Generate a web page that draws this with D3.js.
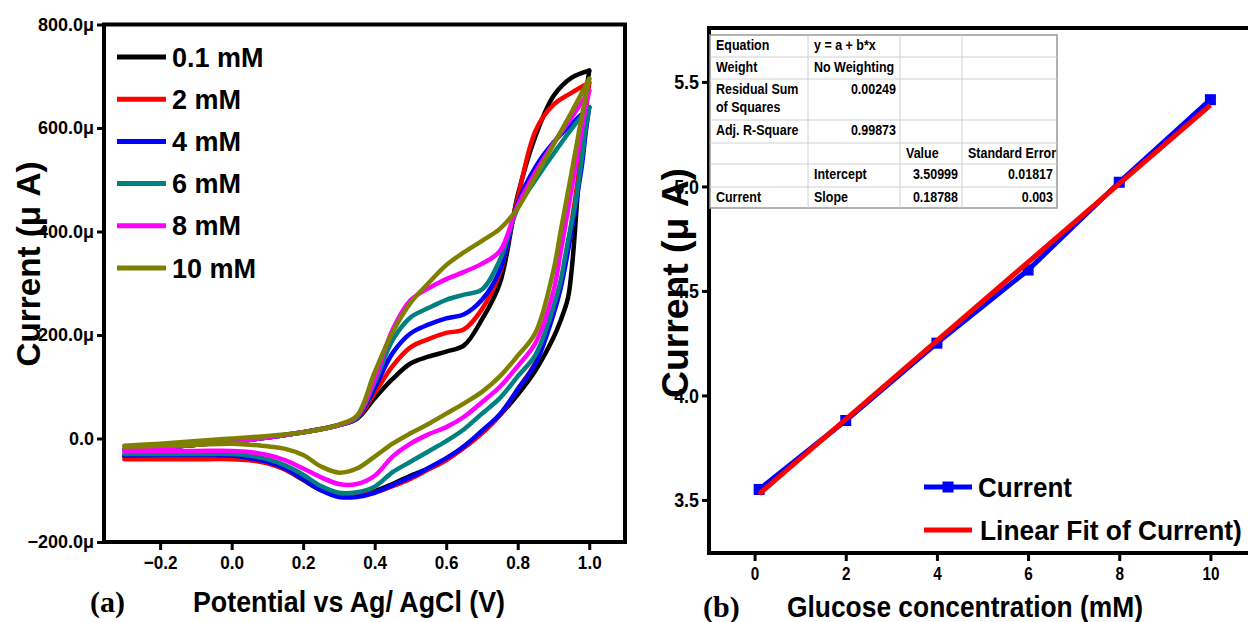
<!DOCTYPE html>
<html>
<head>
<meta charset="utf-8">
<script src="https://cdn.jsdelivr.net/npm/d3@7"></script>
<style>
  body { margin: 0; background: #fff; }
  text { font-family: "Liberation Sans", Arial, sans-serif; font-weight: bold; fill: #000; }
</style>
</head>
<body>
<svg id="chart" width="1248" height="622"></svg>
<script>
// ---- (a) cyclic voltammograms, current in microamps ----
const concLabels = ['0.1 mM', '2 mM', '4 mM', '6 mM', '8 mM', '10 mM'];
const cvColors = ['#000000', '#ff0000', '#0000ff', '#008080', '#ff00ff', '#808000'];
const fwdPotential = [-0.3, -0.2, -0.1, 0.0, 0.1, 0.2, 0.3, 0.35, 0.4, 0.45, 0.5, 0.55, 0.6, 0.65, 0.7, 0.75, 0.8, 0.85, 0.9, 0.95, 1.0];
const fwdCurrent = [
  [-22, -18, -12, -6, 2, 12, 26, 38, 78, 115, 145, 158, 168, 180, 230, 300, 470, 585, 662, 697, 711],
  [-22, -18, -12, -6, 2, 12, 26, 39, 88, 140, 176, 192, 204, 211, 250, 320, 465, 595, 645, 668, 688],
  [-22, -18, -12, -6, 2, 12, 26, 40, 98, 165, 203, 220, 232, 240, 268, 325, 455, 525, 572, 608, 640],
  [-22, -18, -12, -6, 2, 12, 26, 41, 108, 190, 234, 252, 268, 278, 288, 345, 445, 500, 550, 598, 640],
  [-22, -18, -12, -6, 2, 12, 26, 42, 115, 210, 267, 290, 308, 322, 338, 362, 450, 515, 570, 620, 672],
  [-14, -10, -5, 0, 5, 12, 27, 44, 128, 205, 262, 300, 335, 360, 382, 405, 445, 507, 568, 630, 695]
];
const revPotential = [1.0, 0.99, 0.98, 0.97, 0.96, 0.95, 0.94, 0.92, 0.9, 0.85, 0.8, 0.75, 0.7, 0.65, 0.6, 0.55, 0.5, 0.45, 0.4, 0.35, 0.3, 0.25, 0.2, 0.15, 0.1, 0.05, 0.0, -0.1, -0.2, -0.3];
const revCurrent = [
  [711, 660, 590, 500, 400, 320, 270, 228, 195, 132, 85, 45, 12, -15, -40, -58, -72, -88, -102, -110, -110, -100, -80, -60, -45, -38, -35, -35, -35, -35],
  [688, 630, 565, 510, 460, 415, 370, 300, 245, 148, 95, 45, 10, -18, -42, -60, -78, -92, -104, -110, -110, -98, -78, -60, -48, -42, -40, -40, -40, -40],
  [640, 590, 530, 485, 440, 400, 360, 290, 240, 145, 95, 47, 15, -15, -38, -57, -75, -90, -105, -113, -113, -100, -78, -58, -45, -38, -33, -32, -32, -33],
  [640, 600, 545, 495, 450, 415, 380, 305, 255, 162, 120, 78, 48, 18, -5, -25, -45, -65, -93, -104, -105, -92, -70, -52, -40, -33, -30, -30, -30, -30],
  [672, 640, 600, 560, 520, 480, 440, 360, 285, 185, 140, 100, 70, 42, 22, 8, -10, -35, -72, -88, -88, -75, -58, -42, -32, -26, -24, -24, -24, -25],
  [695, 660, 625, 588, 550, 512, 475, 400, 325, 205, 160, 120, 90, 68, 48, 28, 10, -10, -35, -58, -66, -54, -32, -20, -15, -12, -10, -12, -14, -16]
];
const cvXTicks = [-0.2, 0.0, 0.2, 0.4, 0.6, 0.8, 1.0];
const cvYTicks = [-200, 0, 200, 400, 600, 800];

// ---- (b) calibration plot ----
const glucose = [0.1, 2, 4, 6, 8, 10];
const peakCurrent = [3.55, 3.88, 4.25, 4.60, 5.02, 5.415];
const fitIntercept = 3.50999;
const fitSlope = 0.18788;
const calXTicks = [0, 2, 4, 6, 8, 10];
const calYTicks = [3.5, 4.0, 4.5, 5.0, 5.5];
const tableRows = [
  ['Equation', 'y = a + b*x', '', ''],
  ['Weight', 'No Weighting', '', ''],
  ['Residual Sum|of Squares', '0.00249', '', ''],
  ['Adj. R-Square', '0.99873', '', ''],
  ['', '', 'Value', 'Standard Error'],
  ['', 'Intercept', '3.50999', '0.01817'],
  ['Current', 'Slope', '0.18788', '0.003']
];

const svg = d3.select('#chart');

// squeeze text horizontally (the original uses a narrow font)
function condense(sel, k) {
  sel.each(function () {
    const w = this.getComputedTextLength();
    this.setAttribute('textLength', w * k);
    this.setAttribute('lengthAdjust', 'spacingAndGlyphs');
  });
}
function fitTo(sel, len) {
  sel.attr('textLength', len).attr('lengthAdjust', 'spacingAndGlyphs');
}
// scale a left-anchored text so its box really is len wide
function scaleTo(sel, x, y, len) {
  const w = sel.node().getComputedTextLength();
  sel.attr('transform', `translate(${x},${y}) scale(${len / w},1)`);
}

function styleAxis(g, fontSize) {
  g.select('.domain').remove();
  g.selectAll('.tick line').attr('stroke', '#000').attr('stroke-width', 3);
  g.selectAll('.tick text').style('font-size', fontSize + 'px');
}

// ================= panel (a) =================
const ax = d3.scaleLinear().domain([-0.357, 1.1]).range([104, 625]);
const ay = d3.scaleLinear().domain([-200, 800]).range([542, 24.5]);

svg.append('g').attr('transform', 'translate(0,542)')
  .call(d3.axisBottom(ax).tickValues(cvXTicks).tickSize(8).tickPadding(6).tickFormat(d3.format('.1f')))
  .call(g => styleAxis(g, 19))
  .call(g => condense(g.selectAll('.tick text'), 0.9));
svg.append('g').attr('transform', 'translate(104,0)')
  .call(d3.axisLeft(ay).tickValues(cvYTicks).tickSize(7).tickPadding(3)
    .tickFormat(d => d === 0 ? '0.0' : d3.format('.1f')(d) + 'μ'))
  .call(g => styleAxis(g, 18));

const branch = d3.line().curve(d3.curveCatmullRom.alpha(0.5))
  .x(d => ax(d[0])).y(d => ay(d[1]));

const cv = svg.append('g');
concLabels.forEach((lab, i) => {
  const fwd = fwdPotential.map((p, j) => [p, fwdCurrent[i][j]]);
  const rev = revPotential.map((p, j) => [p, revCurrent[i][j]]);
  [fwd, rev].forEach(pts => {
    cv.append('path').attr('d', branch(pts))
      .attr('fill', 'none').attr('stroke', cvColors[i]).attr('stroke-width', 4.5)
      .attr('stroke-linejoin', 'round').attr('stroke-linecap', 'round');
  });
});

svg.append('rect').attr('x', 104).attr('y', 24.5).attr('width', 521).attr('height', 517.5)
  .attr('fill', 'none').attr('stroke', '#000').attr('stroke-width', 4);

// legend (a)
const legA = svg.append('g');
concLabels.forEach((lab, i) => {
  const y = 57 + i * 42.2;
  legA.append('line').attr('x1', 117).attr('x2', 166).attr('y1', y).attr('y2', y)
    .attr('stroke', cvColors[i]).attr('stroke-width', 5);
  legA.append('text').attr('x', 172).attr('y', y + 9.5).style('font-size', '27px').text(lab);
});

svg.append('text').attr('transform', 'translate(40,264) rotate(-90)')
  .attr('text-anchor', 'middle').style('font-size', '33px').text('Current (μ A)')
  .call(t => fitTo(t, 205));
svg.append('text').attr('x', 349).attr('y', 612).attr('text-anchor', 'middle')
  .style('font-size', '30px').text('Potential vs Ag/ AgCl (V)')
  .call(t => fitTo(t, 312));
svg.append('text').attr('x', 90).attr('y', 612)
  .style('font-family', '"Liberation Serif", "Times New Roman", serif').style('font-size', '30px').text('(a)');

// ================= panel (b) =================
const bx = d3.scaleLinear().domain([-1, 11]).range([709, 1256]);
const by = d3.scaleLinear().domain([3.246, 5.758]).range([553, 28]);

svg.append('g').attr('transform', 'translate(0,553)')
  .call(d3.axisBottom(bx).tickValues(calXTicks).tickSize(8).tickPadding(6).tickFormat(d3.format('d')))
  .call(g => styleAxis(g, 18))
  .call(g => condense(g.selectAll('.tick text'), 0.85));
svg.append('g').attr('transform', 'translate(709,0)')
  .call(d3.axisLeft(by).tickValues(calYTicks).tickSize(7).tickPadding(3).tickFormat(d3.format('.1f')))
  .call(g => styleAxis(g, 21))
  .call(g => condense(g.selectAll('.tick text'), 0.85));

svg.append('path').datum(glucose.map((g, i) => [g, peakCurrent[i]]))
  .attr('d', d3.line().x(d => bx(d[0])).y(d => by(d[1])))
  .attr('fill', 'none').attr('stroke', '#0000ff').attr('stroke-width', 5);
svg.selectAll('rect.pt').data(glucose).enter().append('rect').attr('class', 'pt')
  .attr('x', d => bx(d) - 5.5).attr('y', (d, i) => by(peakCurrent[i]) - 5.5)
  .attr('width', 11).attr('height', 11).attr('fill', '#0000ff');
const fitEnds = [glucose[0], glucose[glucose.length - 1]];
svg.append('line')
  .attr('x1', bx(fitEnds[0])).attr('y1', by(fitIntercept + fitSlope * fitEnds[0]))
  .attr('x2', bx(fitEnds[1])).attr('y2', by(fitIntercept + fitSlope * fitEnds[1]))
  .attr('stroke', '#ff0000').attr('stroke-width', 5);

svg.append('path').attr('d', 'M1260,28H709V553H1260')
  .attr('fill', 'none').attr('stroke', '#000').attr('stroke-width', 4);

// fit table
const colX = [710, 808, 900, 962, 1057];
const rowY = [35, 57, 79, 120, 143, 164, 187, 208];
const tbl = svg.append('g');
tbl.append('rect').attr('x', colX[0]).attr('y', rowY[0]).attr('width', colX[4] - colX[0]).attr('height', rowY[7] - rowY[0])
  .attr('fill', '#fff').attr('stroke', '#999').attr('stroke-width', 1.5);
rowY.slice(1, -1).forEach(y => tbl.append('line').attr('x1', colX[0]).attr('x2', colX[4]).attr('y1', y).attr('y2', y)
  .attr('stroke', '#d0d0d0').attr('stroke-width', 1));
colX.slice(1, -1).forEach(x => tbl.append('line').attr('x1', x).attr('x2', x).attr('y1', rowY[0]).attr('y2', rowY[7])
  .attr('stroke', '#d0d0d0').attr('stroke-width', 1));
tableRows.forEach((row, r) => {
  row.forEach((cell, c) => {
    if (!cell) return;
    const numeric = /^[0-9.]+$/.test(cell);
    cell.split('|').forEach((ln, k) => {
      tbl.append('text').style('font-size', '14.5px')
        .attr('x', numeric ? colX[c + 1] - 4 : colX[c] + 6)
        .attr('y', rowY[r] + 15 + k * 18)
        .attr('text-anchor', numeric ? 'end' : 'start')
        .text(ln)
        .call(t => condense(t, 0.86));
    });
  });
});

// legend (b)
svg.append('line').attr('x1', 924).attr('x2', 972).attr('y1', 487).attr('y2', 487)
  .attr('stroke', '#0000ff').attr('stroke-width', 5);
svg.append('rect').attr('x', 942.5).attr('y', 481.5).attr('width', 11).attr('height', 11).attr('fill', '#0000ff');
svg.append('text').style('font-size', '28px').text('Current')
  .call(t => scaleTo(t, 978, 497, 94));
svg.append('line').attr('x1', 924).attr('x2', 972).attr('y1', 530).attr('y2', 530)
  .attr('stroke', '#ff0000').attr('stroke-width', 5);
svg.append('text').style('font-size', '28px').text('Linear Fit of Current)')
  .call(t => scaleTo(t, 980, 540, 262));

svg.append('text').attr('transform', 'translate(688,283) rotate(-90)')
  .attr('text-anchor', 'middle').style('font-size', '36px').text('Current (μ A)')
  .call(t => fitTo(t, 230));
svg.append('text').attr('x', 965).attr('y', 617).attr('text-anchor', 'middle')
  .style('font-size', '30px').text('Glucose concentration (mM)')
  .call(t => fitTo(t, 356));
svg.append('text').attr('x', 703).attr('y', 617)
  .style('font-family', '"Liberation Serif", "Times New Roman", serif').style('font-size', '30px').text('(b)');
</script>
</body>
</html>
